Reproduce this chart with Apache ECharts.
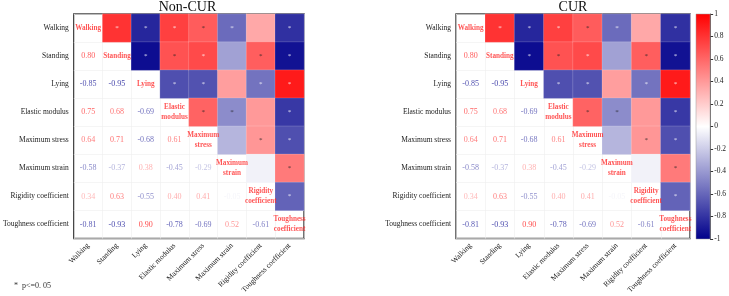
<!DOCTYPE html>
<html>
<head>
<meta charset="utf-8">
<script src="https://cdn.jsdelivr.net/npm/echarts@6/dist/echarts.min.js"></script>
<style>
  html, body { margin: 0; padding: 0; background: #fff; }
  #main { width: 729px; height: 296px; }
</style>
</head>
<body>
<div id="main"></div>
<script>
// variables (same order on both axes)
var variables = ['Walking', 'Standing', 'Lying', 'Elastic modulus', 'Maximum stress',
  'Maximum strain', 'Rigidity coefficient', 'Toughness coefficient'];

// lower triangle of correlation matrix, Non-CUR group
var nonCurCorr = [
  [1],
  [0.80, 1],
  [-0.85, -0.95, 1],
  [0.75, 0.68, -0.69, 1],
  [0.64, 0.71, -0.68, 0.61, 1],
  [-0.58, -0.37, 0.38, -0.45, -0.29, 1],
  [0.34, 0.63, -0.55, 0.40, 0.41, -0.05, 1],
  [-0.81, -0.93, 0.90, -0.78, -0.69, 0.52, -0.61, 1]
];

// lower triangle of correlation matrix, CUR group
var curCorr = [
  [1],
  [0.80, 1],
  [-0.85, -0.95, 1],
  [0.75, 0.68, -0.69, 1],
  [0.64, 0.71, -0.68, 0.61, 1],
  [-0.58, -0.37, 0.38, -0.45, -0.29, 1],
  [0.34, 0.63, -0.55, 0.40, 0.41, -0.05, 1],
  [-0.81, -0.93, 0.90, -0.78, -0.69, 0.52, -0.61, 1]
];

// pairs (row, col) with p<=0.05
var nonCurSig = [[0,1],[0,2],[0,3],[0,4],[0,5],[0,7],[1,2],[1,3],[1,4],[1,6],[1,7],
  [2,3],[2,4],[2,6],[2,7],[3,4],[3,5],[3,7],[4,6],[4,7],[5,7],[6,7]];
var curSig = [[0,1],[0,2],[0,3],[0,4],[0,5],[0,7],[1,2],[1,3],[1,4],[1,6],[1,7],
  [2,3],[2,4],[2,6],[2,7],[3,4],[3,5],[3,7],[4,6],[4,7],[5,7],[6,7]];

var colorTicks = { min: -1, max: 1, step: 0.2 };

var NAVY = [0, 0, 139], WHITE = [255, 255, 255], RED = [255, 0, 0];
var FONT = 'Liberation Serif';

function rgbOf(v) {
  var a = v < 0 ? NAVY : RED, t = Math.min(1, Math.abs(v));
  return [0, 1, 2].map(function (k) { return Math.round(WHITE[k] + (a[k] - WHITE[k]) * t); });
}
function colorOf(v) { var c = rgbOf(v); return 'rgb(' + c.join(',') + ')'; }
function lum(v) { var c = rgbOf(v); return 0.299 * c[0] + 0.587 * c[1] + 0.114 * c[2]; }

var myChart = echarts.init(document.getElementById('main'));

var grids = [
  { left: 71, top: 14, width: 233, height: 225 },
  { left: 456, top: 14, width: 234, height: 225 }
];
var panels = [
  { name: 'Non-CUR', corr: nonCurCorr, sig: nonCurSig },
  { name: 'CUR', corr: curCorr, sig: curSig }
];

var option = {
  animation: false,
  title: [],
  grid: [],
  xAxis: [],
  yAxis: [],
  series: [],
  visualMap: {
    show: false, min: -1, max: 1, dimension: 2, seriesIndex: [],
    inRange: { color: ['#00008B', '#ffffff', '#ff0000'] }
  },
  graphic: [{
    type: 'text', left: 14, top: 282,
    style: { text: '*  p<=0. 05', font: '8px ' + FONT, fill: '#333' }
  }]
};

panels.forEach(function (p, pi) {
  var g = grids[pi];
  option.grid.push({ left: g.left, top: g.top, width: g.width, height: g.height,
    show: true, borderColor: '#444', borderWidth: 1.5, backgroundColor: '#fff' });
  option.title.push({ text: p.name, left: g.left + g.width / 2, textAlign: 'center', top: 0, padding: 0,
    textStyle: { fontFamily: FONT, fontWeight: 'normal', fontSize: 14, color: '#111' } });
  option.xAxis.push({
    type: 'category', gridIndex: pi, data: variables, position: 'bottom',
    axisLine: { show: false }, axisTick: { show: false },
    splitLine: { show: true, interval: 0, lineStyle: { color: '#eee', width: 0.6 } },
    axisLabel: { rotate: 45, interval: 0, fontFamily: FONT, fontSize: 7.5, color: '#222', margin: 6 }
  });
  option.yAxis.push({
    type: 'category', gridIndex: pi, data: variables, inverse: true,
    axisLine: { show: false }, axisTick: { show: false },
    splitLine: { show: true, interval: 0, lineStyle: { color: '#eee', width: 0.6 } },
    axisLabel: { interval: 0, fontFamily: FONT, fontSize: 7.5, color: '#222', margin: 5 }
  });

  var cells = [], nums = [], diag = [], stars = [];
  for (var i = 0; i < variables.length; i++) {
    for (var j = 0; j < i; j++) {
      var v = p.corr[i][j];
      cells.push([i, j, v]);               // upper triangle: x = col i, y = row j
      nums.push({ value: [j, i, v], label: { color: colorOf(v) } });
    }
    diag.push([i, i, 1]);
  }
  p.sig.forEach(function (s) {
    var v = p.corr[s[1]][s[0]];
    stars.push({ value: [s[1], s[0], v], label: { color: lum(v) > 131 ? '#222' : '#fff' } });
  });

  option.visualMap.seriesIndex.push(option.series.length);
  option.series.push({
    type: 'heatmap', xAxisIndex: pi, yAxisIndex: pi, data: cells,
    itemStyle: { borderColor: 'rgba(255,255,255,0.35)', borderWidth: 0.5 },
    emphasis: { disabled: true }
  });
  option.series.push({
    type: 'scatter', xAxisIndex: pi, yAxisIndex: pi, data: nums, symbolSize: 1,
    itemStyle: { color: 'rgba(0,0,0,0)' }, silent: true,
    label: { show: true, position: 'inside', fontFamily: FONT, fontSize: 8,
      formatter: function (d) { return d.value[2].toFixed(2); } }
  });
  option.series.push({
    type: 'scatter', xAxisIndex: pi, yAxisIndex: pi, data: diag, symbolSize: 1,
    itemStyle: { color: 'rgba(0,0,0,0)' }, silent: true,
    label: { show: true, position: 'inside', fontFamily: FONT, fontSize: 7.2, fontWeight: 'bold',
      color: '#ff2b2b', lineHeight: 10,
      formatter: function (d) { return variables[d.value[0]].replace(' ', '\n'); } }
  });
  option.series.push({
    type: 'scatter', xAxisIndex: pi, yAxisIndex: pi, data: stars, symbolSize: 1,
    itemStyle: { color: 'rgba(0,0,0,0)' }, silent: true,
    label: { show: true, position: 'inside', fontFamily: FONT, fontSize: 7, formatter: '*' }
  });
});

// colour bar
option.grid.push({ left: 696, top: 14, width: 16, height: 225 });
option.xAxis.push({ type: 'category', gridIndex: 2, data: [''], show: false });
option.yAxis.push({
  type: 'value', gridIndex: 2, position: 'right',
  min: colorTicks.min, max: colorTicks.max, interval: colorTicks.step,
  splitLine: { show: false },
  axisLine: { show: true, lineStyle: { color: '#333', width: 0.8 } },
  axisTick: { show: true, length: 3, lineStyle: { color: '#333' } },
  axisLabel: { fontFamily: FONT, fontSize: 7.5, color: '#222', margin: 4,
    formatter: function (v) { return String(Math.round(v * 10) / 10); } }
});
option.series.push({
  type: 'custom', xAxisIndex: 2, yAxisIndex: 2, data: [[0, 0]], silent: true,
  renderItem: function (params, api) {
    var top = api.coord([0, colorTicks.max]);
    var bottom = api.coord([0, colorTicks.min]);
    var w = api.size([1, 0])[0];
    return {
      type: 'rect',
      shape: { x: top[0] - w / 2, y: top[1], width: w, height: bottom[1] - top[1] },
      style: {
        fill: new echarts.graphic.LinearGradient(0, 0, 0, 1, [
          { offset: 0, color: '#ff0000' },
          { offset: 0.5, color: '#ffffff' },
          { offset: 1, color: '#00008B' }
        ]),
        stroke: '#999', lineWidth: 0.5
      }
    };
  }
});

myChart.setOption(option);
</script>
</body>
</html>
